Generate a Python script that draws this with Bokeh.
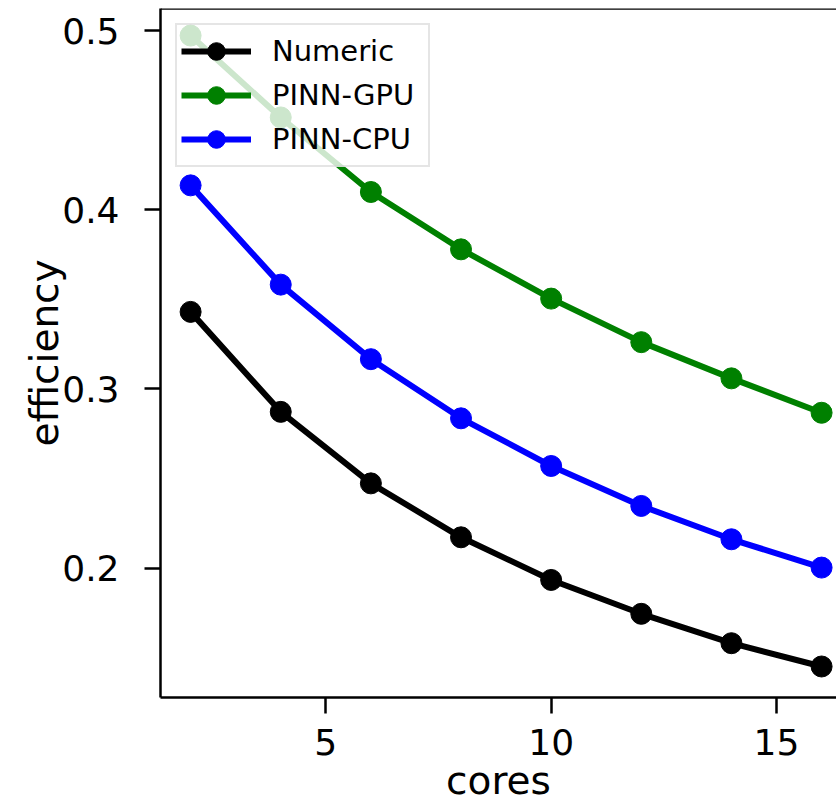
from bokeh.plotting import figure
from bokeh.models import Range1d, Span, Legend, LegendItem, FixedTicker
from bokeh.embed import file_html
from bokeh.resources import INLINE

cores = [2, 4, 6, 8, 10, 12, 14, 16]
numeric = [0.3430, 0.2872, 0.2473, 0.2172, 0.1934, 0.1745, 0.1581, 0.1451]
pinn_gpu = [0.4972, 0.4515, 0.4099, 0.3779, 0.3504, 0.3261, 0.3059, 0.2867]
pinn_cpu = [0.4136, 0.3582, 0.3166, 0.2836, 0.2570, 0.2347, 0.2161, 0.2003]
x_ticks = [5, 10, 15]
y_ticks = [0.2, 0.3, 0.4, 0.5]
x_title = "cores"
y_title = "efficiency"

FONT = "DejaVu Sans"
X0, X1 = 1.332, 16.331
Y0, Y1 = 0.1278, 0.5123

p = figure(width=836, height=807, output_backend="svg", toolbar_location=None,
           x_range=Range1d(X0, X1), y_range=Range1d(Y0, Y1),
           min_border_left=160, min_border_right=0, min_border_top=8, min_border_bottom=110)
p.grid.visible = False
p.outline_line_color = None
p.background_fill_color = "white"

for ax in (p.xaxis[0], p.yaxis[0]):
    ax.axis_line_width = 2.5
    ax.axis_line_color = "black"
    ax.major_tick_line_width = 2.5
    ax.major_tick_in = 0
    ax.major_tick_out = 16
    ax.minor_tick_line_color = None
    ax.major_label_text_font = FONT
    ax.major_label_text_font_size = "36px"
    ax.major_label_text_color = "black"
    ax.axis_label_text_font = FONT
    ax.axis_label_text_font_size = "39px"
    ax.axis_label_text_font_style = "normal"
    ax.axis_label_text_color = "black"

p.xaxis.ticker = FixedTicker(ticks=x_ticks)
p.yaxis.ticker = FixedTicker(ticks=y_ticks)
p.xaxis.axis_label = x_title
p.yaxis.axis_label = y_title
p.xaxis.major_label_standoff = 15
p.xaxis.axis_label_standoff = 0
p.yaxis.major_label_standoff = 25
p.yaxis.axis_label_standoff = -8

top = Span(location=Y1, dimension="width", line_color="black", line_width=2.5)
p.add_layout(top)

series = [("Numeric", numeric, "black"), ("PINN-GPU", pinn_gpu, "#008000"), ("PINN-CPU", pinn_cpu, "#0000ff")]
items = []
for name, vals, col in series:
    l = p.line(cores, vals, line_color=col, line_width=6)
    s = p.scatter(cores, vals, size=21, fill_color=col, line_color=col)
    items.append(LegendItem(label=name, renderers=[l, s]))

legend = Legend(items=items, location="top_left", margin=15,
                glyph_width=70, glyph_height=44, label_standoff=21,
                label_width=152,
                label_text_font=FONT, label_text_font_size="29px",
                label_text_color="black",
                spacing=0, padding=4,
                border_line_color="#cccccc", border_line_width=2,
                background_fill_alpha=0.8)
p.add_layout(legend, "center")

open("out.html", "w").write(file_html(p, INLINE))
